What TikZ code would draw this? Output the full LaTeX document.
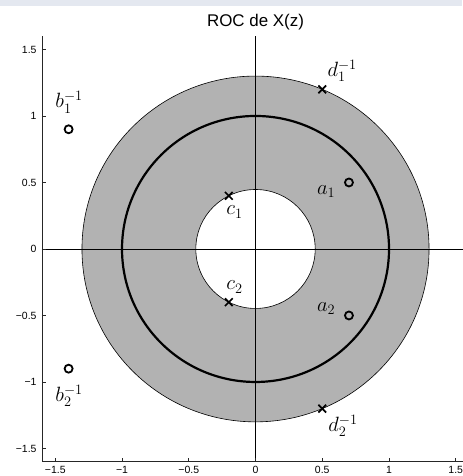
\documentclass[tikz,border=0pt]{standalone}
\usepackage{fontspec}
\newfontfamily\axisfont{Liberation Sans}
\usepackage{tikz}
\usetikzlibrary{positioning,shapes.misc}
\definecolor{rocgray}{gray}{0.7}
\definecolor{topband}{RGB}{228,232,240}

\begin{document}
\begin{tikzpicture}[x=133.5bp, y=133bp,
    zero/.style={circle, draw, line width=1.8bp, inner sep=0pt, minimum size=8bp},
    pole/.style={cross out, draw, line width=1.7bp, inner sep=0pt, minimum size=6bp},
    lbl/.style={anchor=base west, inner sep=0pt, font=\fontsize{22.5}{26}\selectfont},
    axis/.style={line width=0.8bp, black!85},
    ytick/.style={anchor=east, inner sep=0pt, font=\axisfont\fontsize{10.5}{12}\selectfont},
    xtick/.style={anchor=north, inner sep=0pt, font=\axisfont\fontsize{10.5}{12}\selectfont}]
    \useasboundingbox (-1.914,-1.707) rectangle (1.547,1.872);
    \fill[topband] (-1.914,1.827) rectangle (1.547,1.872);

    % region of convergence
    \fill[rocgray, even odd rule] (0,0) circle (1.3) (0,0) circle ({sqrt(0.2)});
    \draw[line width=0.6bp] (0,0) circle (1.3) (0,0) circle ({sqrt(0.2)});
    \draw[line width=2.2bp] (0,0) circle (1);

    % axes
    \draw[line width=0.8bp] (-1.6,0) -- (1.6,0);
    \draw[line width=0.8bp] (0,-1.6) -- (0,1.6);
    \draw[axis] (-1.6,1.6) -- (-1.6,-1.6) -- (1.6,-1.6);
    \foreach \v/\t in {-1.5/−1.5, -1/−1, -0.5/−0.5, 0/0, 0.5/0.5, 1/1, 1.5/1.5} {
        \draw[axis] (\v,-1.6) -- (\v,-1.57);
        \draw[axis] (-1.6,\v) -- (-1.57,\v);
        \node[xtick] (xt\v) at (\v,-1.632) {\t};
        \node[ytick] (yt\v) at (-1.639,\v) {\t};
    }
    \node[font=\axisfont\fontsize{17}{20}\selectfont, anchor=base, inner sep=0pt] (title) at (0,1.669) {ROC de X(z)};

    % zeros and poles
    \node[zero] (a1) at (0.7,0.5) {};
    \node[zero] (a2) at (0.7,-0.5) {};
    \node[zero] (b1) at (-1.4,0.9) {};
    \node[zero] (b2) at (-1.4,-0.9) {};
    \node[pole] (c1) at (-0.2,0.4) {};
    \node[pole] (c2) at (-0.2,-0.4) {};
    \node[pole] (d1) at (0.5,1.2) {};
    \node[pole] (d2) at (0.5,-1.2) {};

    \node[lbl] (a1lbl) at (0.46,0.41) {$a_1$};
    \node[lbl] (a2lbl) at (0.46,-0.47) {$a_2$};
    \node[lbl] (b1lbl) at (-1.50,1.06) {$b_1^{-1}$};
    \node[lbl] (b2lbl) at (-1.50,-1.148) {$b_2^{-1}$};
    \node[lbl] (c1lbl) at (-0.22,0.256) {$c_1$};
    \node[lbl] (c2lbl) at (-0.22,-0.308) {$c_2$};
    \node[lbl] (d1lbl) at (0.538,1.296) {$d_1^{-1}$};
    \node[lbl] (d2lbl) at (0.545,-1.373) {$d_2^{-1}$};
\end{tikzpicture}
\end{document}
